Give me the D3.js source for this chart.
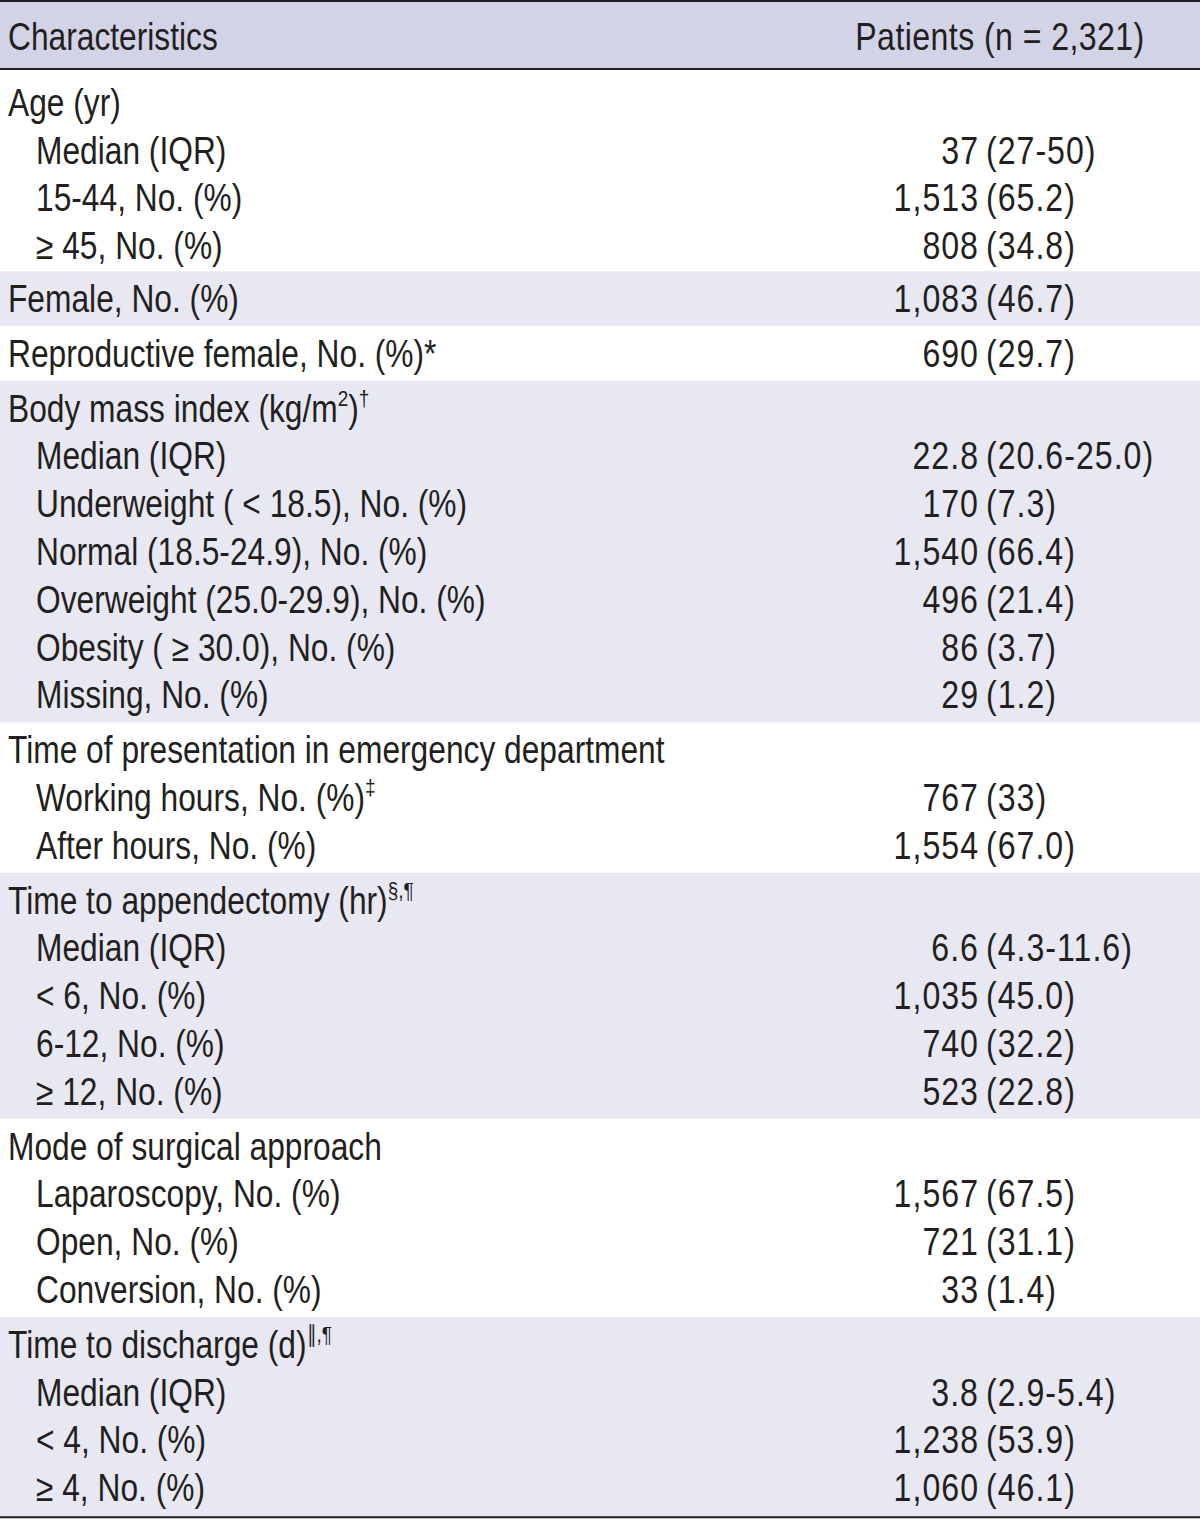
<!DOCTYPE html>
<html>
<head>
<meta charset="utf-8">
<script src="https://cdn.jsdelivr.net/npm/d3@7"></script>
<style>
  body { margin: 0; background: #fff; }
  text { font-family: "Liberation Sans", Arial, sans-serif; fill: #231f20; }
</style>
</head>
<body>
<script>
// kolomkoppen
var headers = ["Characteristics", "Patients (n = 2,321)"];

// rijen: label (^{..} = superscript), waarde, inspringen, groep
var rowLabels = [
  "Age (yr)", "Median (IQR)", "15-44, No. (%)", "≥ 45, No. (%)",
  "Female, No. (%)",
  "Reproductive female, No. (%)*",
  "Body mass index (kg/m^{2})^{†}", "Median (IQR)", "Underweight ( < 18.5), No. (%)", "Normal (18.5-24.9), No. (%)",
  "Overweight (25.0-29.9), No. (%)", "Obesity ( ≥ 30.0), No. (%)", "Missing, No. (%)",
  "Time of presentation in emergency department", "Working hours, No. (%)^{‡}", "After hours, No. (%)",
  "Time to appendectomy (hr)^{§,¶}", "Median (IQR)", "< 6, No. (%)", "6-12, No. (%)", "≥ 12, No. (%)",
  "Mode of surgical approach", "Laparoscopy, No. (%)", "Open, No. (%)", "Conversion, No. (%)",
  "Time to discharge (d)^{∥,¶}", "Median (IQR)", "< 4, No. (%)", "≥ 4, No. (%)"
];
var rowValues = [
  "", "37 (27-50)", "1,513 (65.2)", "808 (34.8)",
  "1,083 (46.7)",
  "690 (29.7)",
  "", "22.8 (20.6-25.0)", "170 (7.3)", "1,540 (66.4)", "496 (21.4)", "86 (3.7)", "29 (1.2)",
  "", "767 (33)", "1,554 (67.0)",
  "", "6.6 (4.3-11.6)", "1,035 (45.0)", "740 (32.2)", "523 (22.8)",
  "", "1,567 (67.5)", "721 (31.1)", "33 (1.4)",
  "", "3.8 (2.9-5.4)", "1,238 (53.9)", "1,060 (46.1)"
];
var rowIndent = [0,1,1,1, 0, 0, 0,1,1,1,1,1,1, 0,1,1, 0,1,1,1,1, 0,1,1,1, 0,1,1,1];
var rowGroup  = [0,0,0,0, 1, 2, 3,3,3,3,3,3,3, 4,4,4, 5,5,5,5,5, 6,6,6,6, 7,7,7,7];

var W = 1200, H = 1520;
var headH = 69, pitch = 47.8, pad = 7, firstExtra = 3;
var fontSize = 38, sx = 0.845, sxLabel = 0.835;

var svg = d3.select("body").append("svg")
    .attr("width", W)
    .attr("height", H);

// groepen opbouwen
var nGroups = d3.max(rowGroup) + 1;
var groups = [];
var yCursor = headH + 1;
for (var g = 0; g < nGroups; g++) {
    var idx = d3.range(rowLabels.length).filter(function(i) { return rowGroup[i] === g; });
    var extra = (g === 0 ? firstExtra : 0) + (g === nGroups - 1 ? 2 : 0);
    var h = idx.length * pitch + pad + extra;
    groups.push({ g: g, top: yCursor, bottom: yCursor + h, first: idx[0], off: g === 0 ? firstExtra + 2 : 0 });
    yCursor += h;
}

// y-schaal binnen een groep
var yIn = d3.scaleLinear().domain([0, 1]).range([27.5, 27.5 + pitch]);
function rowMid(i) {
    var gr = groups[rowGroup[i]];
    return gr.top + gr.off + yIn(i - gr.first);
}

// achtergrond
svg.append("rect").attr("x", 0).attr("y", 0).attr("width", W).attr("height", headH).attr("fill", "#d3d3e8");
svg.selectAll(".band")
    .data(groups.filter(function(d) { return d.g % 2 === 1; }))
    .enter().append("rect")
    .attr("class", "band")
    .attr("x", 0).attr("width", W)
    .attr("y", function(d) { return d.top; })
    .attr("height", function(d) { return d.bottom - d.top; })
    .attr("fill", "#e8e8f3");

var tableBottom = groups[nGroups - 1].bottom;

// lijnen
[1, headH, tableBottom].forEach(function(ly) {
    svg.append("line").attr("x1", 0).attr("x2", W).attr("y1", ly).attr("y2", ly)
        .attr("stroke", "#231f20").attr("stroke-width", 2);
});

// tekst in smal geschaalde groepen (condensed letter)
var txt = svg.append("g").attr("transform", "scale(" + sx + ",1)");
var lab = svg.append("g").attr("transform", "scale(" + sxLabel + ",1)");
function X(x) { return x / sx; }
function XL(x) { return x / sxLabel; }

lab.append("text").attr("x", XL(8)).attr("y", 37).attr("dy", "0.35em")
    .style("font-size", fontSize + "px").text(headers[0]);
txt.append("text").attr("x", X(1000)).attr("y", 37).attr("dy", "0.35em")
    .attr("text-anchor", "middle")
    .style("letter-spacing", "0.5px")
    .style("font-size", fontSize + "px").text(headers[1]);

// labels met superscript
var labels = lab.selectAll(".label")
    .data(rowLabels)
    .enter().append("text")
    .attr("class", "label")
    .attr("x", function(d, i) { return XL(rowIndent[i] ? 36 : 8); })
    .attr("y", function(d, i) { return rowMid(i) + 0.35 * fontSize; })
    .style("font-size", fontSize + "px");

labels.each(function(d) {
    var el = d3.select(this);
    var parts = d.split(/(\^\{[^}]*\})/);
    var sup = false;
    parts.forEach(function(p) {
        if (!p) return;
        var m = p.match(/^\^\{([^}]*)\}$/);
        if (m) {
            el.append("tspan").attr("dy", sup ? 0 : -0.42 * fontSize).style("font-size", "0.6em").text(m[1]);
            sup = true;
        } else {
            var t = el.append("tspan").text(p);
            if (sup) t.attr("dy", 0.42 * fontSize);
            sup = false;
        }
    });
});

// waarden: eerste getal rechts uitgelijnd op 979
var valueX = 979;
rowValues.forEach(function(v, i) {
    if (!v) return;
    var k = v.indexOf(" ");
    txt.append("text").attr("x", X(valueX)).attr("y", rowMid(i)).attr("dy", "0.35em")
        .attr("text-anchor", "end").style("letter-spacing", "1.2px")
        .style("font-size", fontSize + "px").text(v.slice(0, k));
    txt.append("text").attr("x", X(valueX + 7)).attr("y", rowMid(i)).attr("dy", "0.35em")
        .style("letter-spacing", "1.2px")
        .style("font-size", fontSize + "px").text(v.slice(k + 1));
});
</script>
</body>
</html>
